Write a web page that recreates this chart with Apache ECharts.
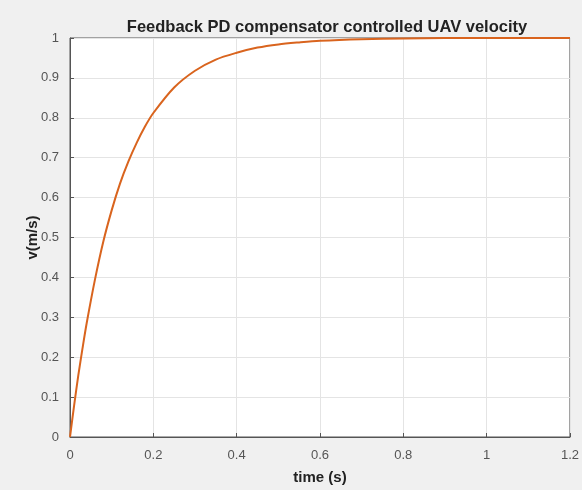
<!DOCTYPE html>
<html>
<head>
<meta charset="utf-8">
<script src="https://cdn.jsdelivr.net/npm/echarts@6/dist/echarts.min.js"></script>
<style>
  html, body { margin: 0; padding: 0; background: #f0f0f0; }
  #main { width: 582px; height: 490px; }
</style>
</head>
<body>
<div id="main"></div>
<script>
// time (s) and velocity
const timeVals = [0, 0.01, 0.02, 0.03, 0.04, 0.06, 0.08, 0.1, 0.12, 0.14, 0.16, 0.18, 0.2, 0.25, 0.3, 0.35, 0.4, 0.45, 0.5, 0.55, 0.6, 0.7, 0.8, 0.9, 1.0, 1.1, 1.2];
const velVals  = [0, 0.08, 0.155, 0.222, 0.285, 0.395, 0.49, 0.568, 0.635, 0.69, 0.737, 0.778, 0.812, 0.876, 0.918, 0.946, 0.963, 0.976, 0.984, 0.989, 0.993, 0.997, 0.999, 1, 1, 1, 1];

const axisColor = '#555';
const gridColor = '#e4e4e4';
const fontFam = '"Liberation Sans", Arial, sans-serif';

const chart = echarts.init(document.getElementById('main'));
chart.setOption({
  backgroundColor: '#f0f0f0',
  animation: false,
  title: {
    text: 'Feedback PD compensator controlled UAV velocity',
    left: 322, top: 14, textAlign: 'center',
    textStyle: { fontSize: 16.5, fontWeight: 'bold', color: '#222', fontFamily: fontFam }
  },
  grid: {
    left: 70, right: 7, top: 38, bottom: 53,
    show: true, backgroundColor: '#fff', borderColor: axisColor, borderWidth: 1
  },
  xAxis: {
    type: 'value', min: 0, max: 1.2, interval: 0.2,
    name: 'time (s)', nameLocation: 'middle', nameGap: 33, nameMoveOverlap: false,
    nameTextStyle: { fontSize: 15, fontWeight: 'bold', color: '#222', fontFamily: fontFam },
    axisLine: { show: true, lineStyle: { color: axisColor } },
    axisTick: { inside: true, length: 4, lineStyle: { color: axisColor } },
    axisLabel: {
      color: axisColor, fontSize: 13, fontFamily: fontFam, margin: 12,
      formatter: v => String(+v.toFixed(1))
    },
    splitLine: { show: true, lineStyle: { color: gridColor } }
  },
  yAxis: {
    type: 'value', min: 0, max: 1, interval: 0.1,
    name: 'v(m/s)', nameLocation: 'middle', nameGap: 30, nameMoveOverlap: false,
    nameTextStyle: { fontSize: 15, fontWeight: 'bold', color: '#222', fontFamily: fontFam },
    axisLine: { show: true, lineStyle: { color: axisColor } },
    axisTick: { inside: true, length: 4, lineStyle: { color: axisColor } },
    axisLabel: {
      color: axisColor, fontSize: 13, fontFamily: fontFam, margin: 11,
      formatter: v => String(+v.toFixed(1))
    },
    splitLine: { show: true, lineStyle: { color: gridColor } }
  },
  series: [{
    type: 'line',
    data: timeVals.map((t, i) => [t, velVals[i]]),
    smooth: 0.3,
    showSymbol: false,
    lineStyle: { color: '#d9641e', width: 2 }
  }]
});
</script>
</body>
</html>
